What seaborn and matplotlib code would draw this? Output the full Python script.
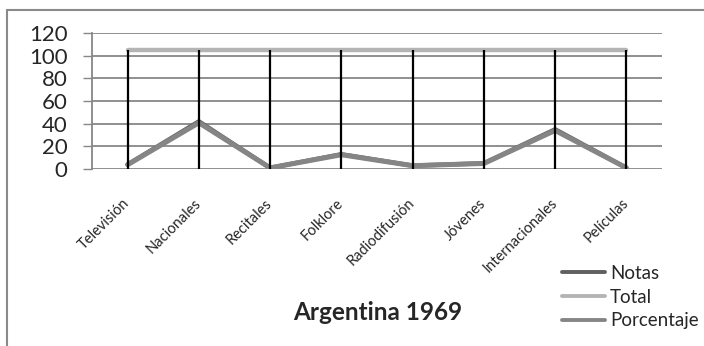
import matplotlib
matplotlib.use('Agg')
import matplotlib.pyplot as plt
import seaborn as sns
import pandas as pd
from matplotlib.lines import Line2D

sns.set_style("white")
plt.rcParams['font.family'] = ['Lato', 'DejaVu Sans']

# data
categorias = ['Televisión', 'Nacionales', 'Recitales', 'Folklore',
              'Radiodifusión', 'Jóvenes', 'Internacionales', 'Películas']
notas = [4, 42, 1, 13, 3, 5, 35, 1]
total = [105, 105, 105, 105, 105, 105, 105, 105]
porcentaje = [3.8, 40.8, 1.0, 12.6, 2.9, 4.9, 34.0, 1.0]
y_ticks = [0, 20, 40, 60, 80, 100, 120]

col_notas = '#5f5f5f'
col_total = '#b4b4b4'
col_pct = '#858585'

df = pd.DataFrame({'pos': range(len(categorias)), 'cat': categorias,
                   'Notas': notas, 'Total': total, 'Porcentaje': porcentaje})

W, H = 704, 346
fig = plt.figure(figsize=(W / 100, H / 100), dpi=100)
ax = fig.add_axes([92 / W, 1 - 169 / H, (662 - 92) / W, (169 - 33) / H])

# grid
for v in y_ticks:
    ax.axhline(v, color='#878787', lw=1.3, zorder=0)

# drop lines
ax.vlines(df['pos'], 0, df[['Notas', 'Total', 'Porcentaje']].max(axis=1),
          color='black', lw=1.6, zorder=4)

sns.lineplot(data=df, x='pos', y='Notas', color=col_notas, lw=3.2, ax=ax,
             solid_capstyle='round', zorder=2)
sns.lineplot(data=df, x='pos', y='Total', color=col_total, lw=3.2, ax=ax,
             solid_capstyle='round', zorder=3)
sns.lineplot(data=df, x='pos', y='Porcentaje', color=col_pct, lw=3.6, ax=ax,
             solid_capstyle='round', zorder=3)

ax.set_xlim(-0.5, len(categorias) - 0.5)
ax.set_ylim(0, 120)
ax.set_yticks(y_ticks)
ax.set_yticklabels([str(v) for v in y_ticks], fontsize=16)
ax.tick_params(axis='y', length=6.5, width=1, color='#878787', pad=11, left=True)
ax.set_xticks(df['pos'])
ax.set_xticklabels(categorias, rotation=45, ha='right', va='center',
                   rotation_mode='anchor', fontsize=10.5)
ax.tick_params(axis='x', length=0, pad=23)
ax.set_xlabel('')
ax.set_ylabel('')
for s in ['top', 'right', 'bottom']:
    ax.spines[s].set_visible(False)
ax.spines['left'].set_color('#878787')
ax.spines['left'].set_linewidth(1.3)

# title
fig.text(293 / W, 1 - 312 / H, 'Argentina 1969', fontsize=17.5, fontweight='bold',
         ha='left', va='center')

# legend
handles = [Line2D([], [], color=col_notas, lw=2.8),
           Line2D([], [], color=col_total, lw=2.8),
           Line2D([], [], color=col_pct, lw=2.8)]
fig.legend(handles, ['Notas', 'Total', 'Porcentaje'], loc='upper left',
           bbox_to_anchor=(562 / W, 1 - 265 / H), frameon=False, fontsize=13.5,
           handlelength=2.3, handletextpad=0.25, labelspacing=0.35, borderpad=0,
           borderaxespad=0)

# outer chart border (partially visible)
fig.add_artist(Line2D([7 / W, 7 / W], [0, 1 - 10 / H], color='#8a8a8a', lw=1.5))
fig.add_artist(Line2D([7 / W, 1], [1 - 10 / H, 1 - 10 / H], color='#8a8a8a', lw=1.5))

fig.savefig('out.png', dpi=100)
